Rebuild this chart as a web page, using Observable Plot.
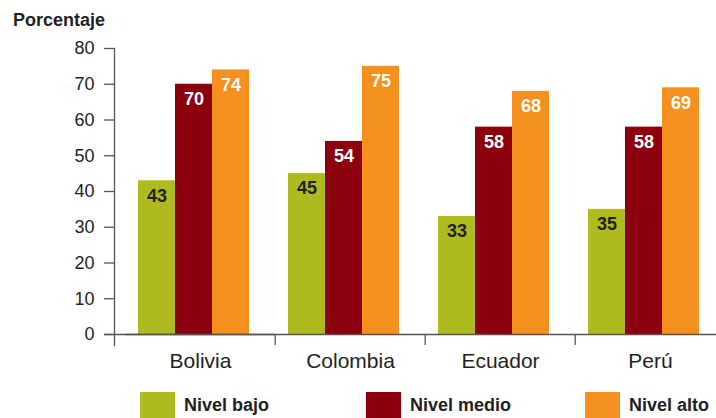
<!DOCTYPE html>
<html>
<head>
<meta charset="utf-8">
<script src="https://cdn.jsdelivr.net/npm/d3@7"></script>
<script src="https://cdn.jsdelivr.net/npm/@observablehq/plot@0.6"></script>
<style>
  html, body { margin: 0; padding: 0; background: #fff; }
  #wrap { position: relative; width: 716px; height: 418px; overflow: hidden;
          font-family: "Liberation Sans", Arial, Helvetica, sans-serif; color: #231f20; }
  #title { position: absolute; left: 13px; top: 11px; font-size: 18px; line-height: 18px; font-weight: bold; }
  #chart { position: absolute; left: 0; top: 0; }
  .item { position: absolute; top: 392px; height: 26px; display: flex; align-items: center; }
  .sw { width: 35px; height: 26px; margin-right: 9px; }
  .lab { font-size: 18px; font-weight: bold; white-space: nowrap; }
</style>
</head>
<body>
<div id="wrap">
  <div id="chart"></div>
  <div id="title">Porcentaje</div>
  <div id="legend"></div>
</div>
<script>
const countries = ["Bolivia", "Colombia", "Ecuador", "Perú"];
const levels = ["Nivel bajo", "Nivel medio", "Nivel alto"];
const valuesBajo = [43, 45, 33, 35];
const valuesMedio = [70, 54, 58, 58];
const valuesAlto = [74, 75, 68, 69];
const yTicks = [0, 10, 20, 30, 40, 50, 60, 70, 80];
const colors = ["#afba1e", "#8b000c", "#f5901e"];

const series = [valuesBajo, valuesMedio, valuesAlto];
const data = [];
countries.forEach((c, i) => levels.forEach((l, j) => data.push({country: c, level: l, value: series[j][i]})));

const W = 716, H = 380, ML = 124, MR = -10.4;
const bw = (W - ML - MR) / countries.length;
const axisColor = "#555";
const font = "'Liberation Sans', Arial, Helvetica, sans-serif";

const chart = Plot.plot({
  width: W,
  height: H,
  marginLeft: ML,
  marginRight: MR,
  marginTop: 48,
  marginBottom: 46,
  style: {fontFamily: font, fontSize: "18px", color: "#231f20", background: "transparent", overflow: "visible"},
  fx: {domain: countries, padding: 0, label: null},
  x: {domain: levels, paddingInner: 0, paddingOuter: 0.507, align: 0.34, axis: null},
  y: {domain: [0, 80], label: null},
  color: {domain: levels, range: colors},
  marks: [
    Plot.barY(data, {fx: "country", x: "level", y: "value", fill: "level"}),
    Plot.text(data, {filter: d => d.level === levels[0], fx: "country", x: "level", y: "value", text: d => String(d.value),
      lineAnchor: "top", dy: 8, fill: "#231f20", fontWeight: "bold", fontSize: 18}),
    Plot.text(data, {filter: d => d.level !== levels[0], fx: "country", x: "level", y: "value", text: d => String(d.value),
      lineAnchor: "top", dy: 8, fill: "white", fontWeight: "bold", fontSize: 18}),
    Plot.ruleY([0], {stroke: axisColor, strokeWidth: 1.3}),
    Plot.ruleY([0], {stroke: axisColor, strokeWidth: 1.3, facetAnchor: "left", insetLeft: -21}),
    Plot.frame({anchor: "left", facetAnchor: "left", dx: -11, insetBottom: -11, stroke: axisColor, strokeWidth: 1.3}),
    Plot.axisY({ticks: yTicks, tickSize: 10, tickPadding: 10, dx: -11, stroke: axisColor, strokeWidth: 1.3,
      fontSize: 18, label: null, tickFormat: d => String(d)}),
    Plot.axisFx({anchor: "bottom", tickSize: 0, tickPadding: 19, fontSize: 21, label: null}),
    Plot.axisFx({anchor: "bottom", ticks: countries.slice(1), tickSize: 11, dx: -bw / 2, stroke: axisColor,
      strokeWidth: 1.3, tickFormat: () => "", fill: "none", label: null})
  ]
});
document.getElementById("chart").appendChild(chart);

const legendLefts = [140, 366, 585];
const legend = document.getElementById("legend");
levels.forEach((l, i) => {
  const item = document.createElement("div");
  item.className = "item";
  item.style.left = legendLefts[i] + "px";
  const sw = document.createElement("div");
  sw.className = "sw";
  sw.style.background = colors[i];
  const lab = document.createElement("span");
  lab.className = "lab";
  lab.textContent = l;
  item.appendChild(sw);
  item.appendChild(lab);
  legend.appendChild(item);
});
</script>
</body>
</html>
